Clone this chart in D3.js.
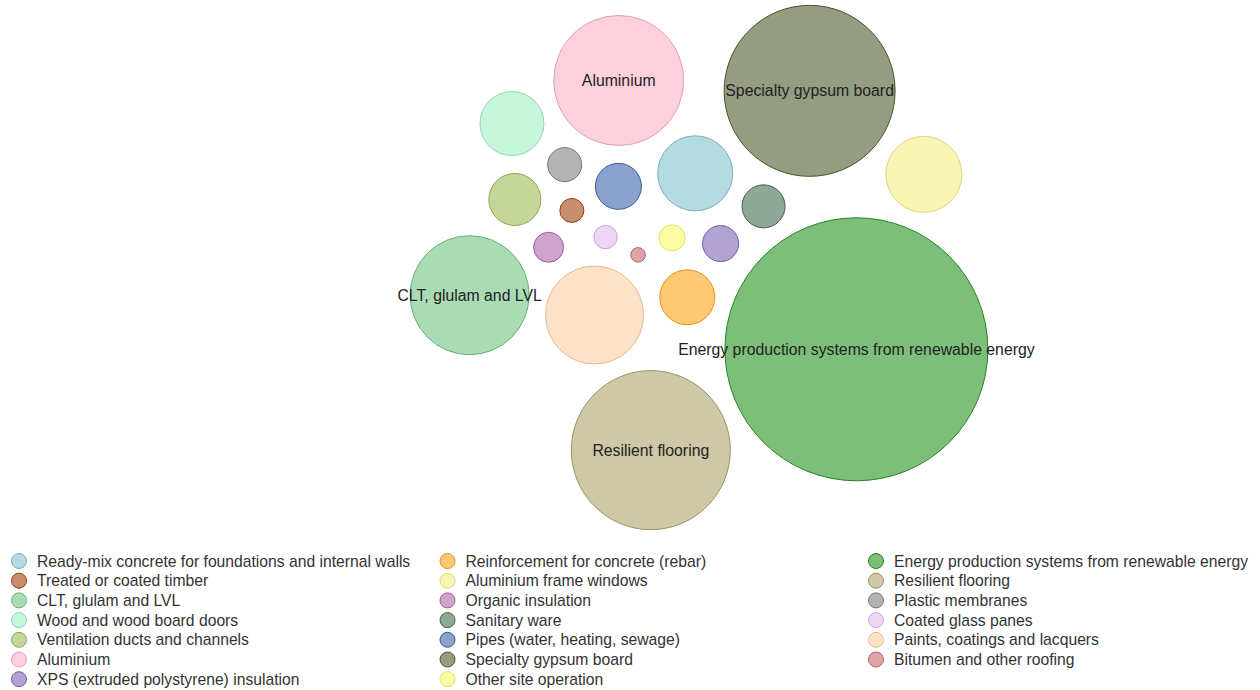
<!DOCTYPE html>
<html>
<head>
<meta charset="utf-8">
<script src="https://cdn.jsdelivr.net/npm/d3@7"></script>
<style>
    body { margin: 0; background: #fff; font-family: "Liberation Sans", Arial, sans-serif; }
</style>
</head>
<body>
<div id="bubble-chart"></div>
<script>
let categories = [
    "Ready-mix concrete for foundations and internal walls",
    "Treated or coated timber",
    "CLT, glulam and LVL",
    "Wood and wood board doors",
    "Ventilation ducts and channels",
    "Aluminium",
    "XPS (extruded polystyrene) insulation",
    "Reinforcement for concrete (rebar)",
    "Aluminium frame windows",
    "Organic insulation",
    "Sanitary ware",
    "Pipes (water, heating, sewage)",
    "Specialty gypsum board",
    "Other site operation",
    "Energy production systems from renewable energy",
    "Resilient flooring",
    "Plastic membranes",
    "Coated glass panes",
    "Paints, coatings and lacquers",
    "Bitumen and other roofing"
]
let values = [61, 10, 105, 50, 38, 116, 22, 41, 62, 16, 29, 32, 157, 12, 249, 145, 20, 9.4, 84, 0.5]
let colors = [
    "#84c3cf", "#a4450f", "#70c584", "#a0f0c5", "#9ebb57",
    "#fab1c5", "#8066b7", "#fda317", "#f8ee84", "#b164aa",
    "#436c52", "#3c64aa", "#4d5c2f", "#fcfa67", "#269323",
    "#afa36b", "#818181", "#dfb9ee", "#fdcfa3", "#c86771"
]

let width = 1260, height = 690
let center = {x: 638.5, y: 255}
let boxCenter = {x: 699, y: 267.5}   // where the bubble group gets centred
// simulation start: seeded, then turned/flipped once it has settled
let layoutSeed = 414, layoutAngle = -0.8507, layoutMirror = true

let data = categories.map(function(c, i) {
    return {"name": c, "value": values[i], "color": colors[i]}
})

let svg = d3.select("#bubble-chart")
    .append("svg")
    .attr("width", width)
    .attr("height", height)

let size = d3.scaleLinear()
    .domain([0, d3.max(values)])
    .range([7, 131.5])

// small bubbles start near the middle, big ones further out
let rng = d3.randomLcg(layoutSeed)
let order = data.slice().sort((a, b) => a.value - b.value)
order.forEach(function(d, k) {
    let a = rng() * 2 * Math.PI, r = 10 * Math.sqrt(k + 0.5)
    d.x = r * Math.cos(a)
    d.y = r * Math.sin(a)
})

let simulation = d3.forceSimulation(order)
    .randomSource(rng)
    .force("center", d3.forceCenter(0, 0))
    .force("charge", d3.forceManyBody().strength(0.1))
    .force("collide", d3.forceCollide().strength(0.2).radius(d => size(d.value) + 9).iterations(1))
    .stop()
simulation.tick(300)

data.forEach(function(d) {
    let x = d.x, y = layoutMirror ? -d.y : d.y
    d.x = center.x + x * Math.cos(layoutAngle) - y * Math.sin(layoutAngle)
    d.y = center.y + x * Math.sin(layoutAngle) + y * Math.cos(layoutAngle)
})

// second pass: squeeze it a bit (more in height) so it sits above the legend
let squeeze = d3.forceSimulation(data)
    .randomSource(rng)
    .alpha(0.5)
    .force("x", d3.forceX(center.x).strength(0.03))
    .force("y", d3.forceY(center.y).strength(0.045))
    .force("collide", d3.forceCollide().strength(0.8).radius(d => size(d.value) + 9).iterations(2))
    .stop()
squeeze.tick(150)

// centre the whole group
let x0 = d3.min(data, d => d.x - size(d.value)), x1 = d3.max(data, d => d.x + size(d.value))
let y0 = d3.min(data, d => d.y - size(d.value)), y1 = d3.max(data, d => d.y + size(d.value))
data.forEach(function(d) {
    d.x += boxCenter.x - (x0 + x1) / 2
    d.y += boxCenter.y - (y0 + y1) / 2
})

let node = svg.append("g")
    .selectAll("g")
    .data(data)
    .enter()
    .append("g")
    .attr("transform", d => "translate(" + d.x + "," + d.y + ")")

node.append("circle")
    .attr("r", d => size(d.value))
    .style("fill", d => d.color)
    .style("fill-opacity", 0.6)
    .attr("stroke", d => d3.color(d.color).darker(0.3))
    .style("stroke-width", 1)

// only the big ones get a label
node.filter(d => size(d.value) > 55)
    .append("text")
    .attr("text-anchor", "middle")
    .attr("dy", "0.35em")
    .style("font-size", "15.8px")
    .style("fill", "#222")
    .text(d => d.name)

// legend, 7 rows per column
let legend = svg.append("g")
    .selectAll("g")
    .data(data)
    .enter()
    .append("g")
    .attr("transform", function(d, i) {
        let col = Math.floor(i / 7), row = i % 7
        return "translate(" + (19 + col * 428.5) + "," + (561 + row * 19.7) + ")"
    })

legend.append("circle")
    .attr("r", 7.5)
    .style("fill", d => d.color)
    .style("fill-opacity", 0.6)
    .attr("stroke", d => d3.color(d.color).darker(0.3))

legend.append("text")
    .attr("x", 18)
    .attr("dy", "0.35em")
    .style("font-size", "15.7px")
    .style("fill", "#333")
    .text(d => d.name)
</script>
</body>
</html>
